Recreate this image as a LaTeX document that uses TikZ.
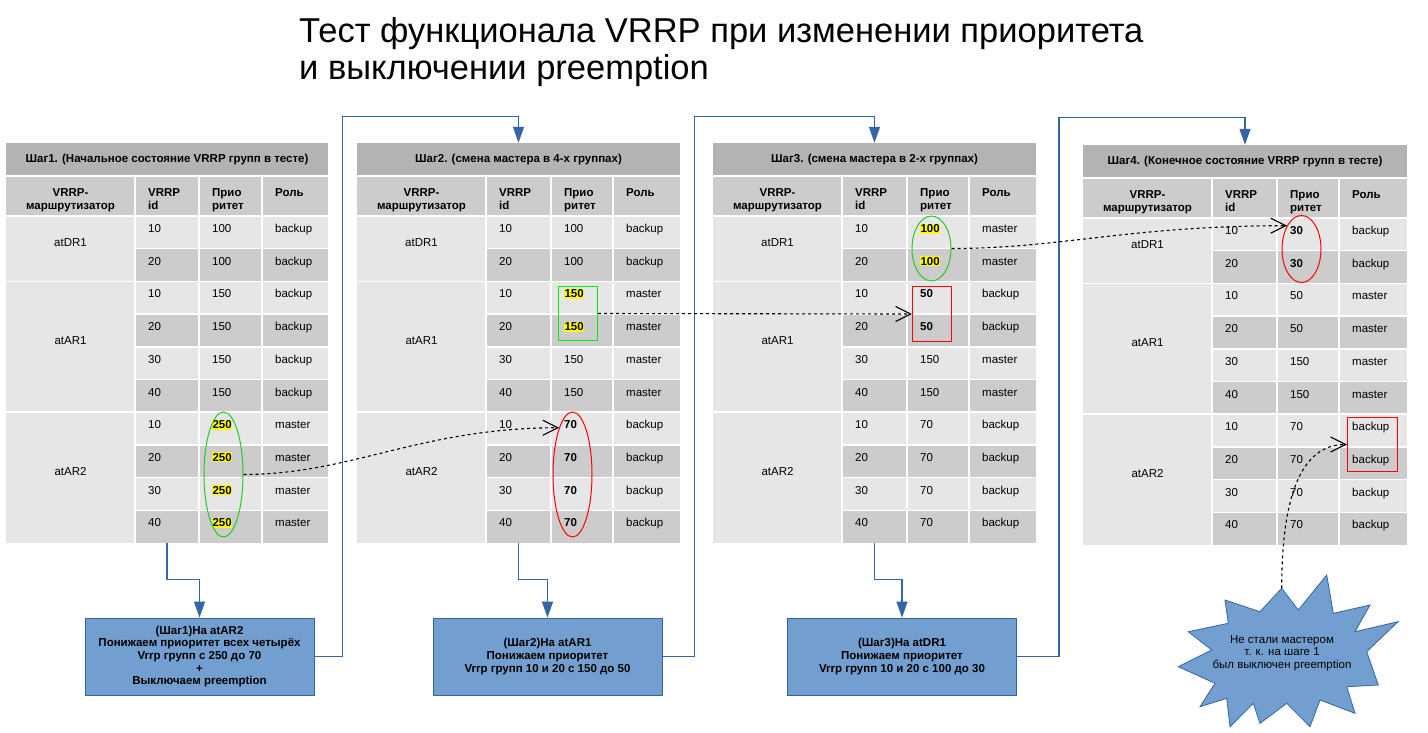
\documentclass[tikz,border=0pt]{standalone}
\usepackage{fontspec}
\setmainfont{Liberation Sans}
\usetikzlibrary{arrows.meta,shapes.geometric}
\definecolor{ctitle}{HTML}{B3B3B3}
\definecolor{chead}{HTML}{CCCCCC}
\definecolor{clight}{HTML}{E6E6E6}
\definecolor{cdark}{HTML}{CCCCCC}
\definecolor{boxfill}{HTML}{729FCF}
\definecolor{boxline}{HTML}{3465A4}
\definecolor{hlgreen}{HTML}{22CC22}
\definecolor{hlgreenb}{HTML}{00EE00}
\definecolor{hlred}{HTML}{FF0000}
\definecolor{hlyellow}{HTML}{FFFF00}
\newcommand\cellfont{\fontsize{11.5}{13}\selectfont}
\tikzset{
  cell/.style={anchor=base west, inner sep=0pt, font=\cellfont},
  hcell/.style={anchor=base west, inner sep=0pt, font=\cellfont\bfseries},
  pv-n/.style={},
  pv-b/.style={font=\cellfont\bfseries},
  pv-y/.style={font=\cellfont\bfseries, fill=hlyellow, inner xsep=0.3pt, inner ysep=0.9pt},
  stepbox/.style={draw=boxline, fill=boxfill, line width=0.8pt, minimum width=229pt, minimum height=77pt, align=center, inner sep=2pt, font=\fontsize{11.5}{12.6}\selectfont\bfseries},
  conn/.style={draw=boxline, line width=1.2pt, -{Triangle[length=16pt,width=11pt]}},
  dasharrow/.style={draw=black, line width=1.1pt, dash pattern=on 3pt off 3pt, -{Straight Barb[length=15pt,width=15pt,line width=1.1pt]}},
  ringg/.style={draw=hlgreen, line width=1pt, ellipse, inner sep=0pt},
  ringr/.style={draw=hlred, line width=1pt, ellipse, inner sep=0pt},
  frameg/.style={draw=hlgreenb, line width=1.4pt, rectangle, inner sep=0pt},
  framer/.style={draw=hlred, line width=1.4pt, rectangle, inner sep=0pt},
}
\newcommand\drawvtable[3]{%
  \pgfmathsetmacro\tmid{(\xa+\xe)/2}%
  \pgfmathsetmacro\rmid{(\xa+\xb)/2}%
  \fill[ctitle] (\xa,\ty) rectangle (\xe,\ty+33);
  \fill[chead] (\xa,\ty+33) rectangle (\xe,\ty+73);
  \fill[clight] (\xa,\ty+73) rectangle (\xb,\ty+400);
  \foreach \i/\id/\pr/\ro/\st in {#3} {
    \ifodd\i \def\rc{cdark}\else\def\rc{clight}\fi
    \fill[\rc] (\xb,{\ty+73+32.7*\i}) rectangle (\xe,{\ty+73+32.7*(\i+1)});
  }
  \begin{scope}[white, line width=1.5pt]
    \draw (\xa,\ty+33) -- (\xe,\ty+33);
    \draw (\xa,\ty+73) -- (\xe,\ty+73);
    \foreach \k in {1,3,4,5,7,8,9} \draw (\xb,{\ty+73+32.7*\k}) -- (\xe,{\ty+73+32.7*\k});
    \foreach \k in {2,6} \draw (\xa,{\ty+73+32.7*\k}) -- (\xe,{\ty+73+32.7*\k});
    \foreach \xx in {\xb,\xc,\xd} \draw (\xx,\ty+33) -- (\xx,\ty+400);
  \end{scope}
  \node[hcell,anchor=base] (#1-title) at (\tmid,\ty+19.7) {#2};
  \node[hcell,anchor=base] (#1-h1a) at (\rmid,\ty+53.5) {VRRP-};
  \node[hcell,anchor=base] (#1-h1b) at (\rmid,\ty+66.5) {маршрутизатор};
  \node[hcell] (#1-h2a) at (\xb+13,\ty+53.5) {VRRP};
  \node[hcell] (#1-h2b) at (\xb+13,\ty+66.5) {id};
  \node[hcell] (#1-h3a) at (\xc+13,\ty+53.5) {Прио};
  \node[hcell] (#1-h3b) at (\xc+13,\ty+66.5) {ритет};
  \node[hcell] (#1-h4a) at (\xd+13,\ty+53.5) {Роль};
  \node[cell,anchor=base] (#1-g1) at (\rmid,{\ty+73+32.7*1-2}) {atDR1};
  \node[cell,anchor=base] (#1-g2) at (\rmid,{\ty+73+32.7*4-2}) {atAR1};
  \node[cell,anchor=base] (#1-g3) at (\rmid,{\ty+73+32.7*8-2}) {atAR2};
  \foreach \i/\id/\pr/\ro/\st in {#3} {
    \node[cell] (#1-\i-id) at (\xb+13,{\ty+89.5+32.7*\i}) {\id};
    \node[cell,pv-\st] (#1-\i-pr) at (\xc+13,{\ty+89.5+32.7*\i}) {\pr};
    \node[cell] (#1-\i-ro) at (\xd+13,{\ty+89.5+32.7*\i}) {\ro};
  }
  \node[inner sep=0pt, minimum width={\xe-\xa}, minimum height=400] (#1) at (\tmid,\ty+200) {};
}
\begin{document}
\begin{tikzpicture}[x=1pt,y=-1pt]
\useasboundingbox[fill=white] (0,0) rectangle (1428,732);
% title
\node[anchor=base west, inner sep=0pt, font=\fontsize{34.5}{40}\selectfont] (head1) at (299,42) {Тест функционала VRRP при изменении приоритета};
\node[anchor=base west, inner sep=0pt, font=\fontsize{34.5}{40}\selectfont] (head2) at (299,79) {и выключении preemption};
% tables
\def\xa{6}\def\xb{135}\def\xc{199}\def\xd{262}\def\xe{328}\def\ty{143}
\drawvtable{T1}{Шаг1. (Начальное состояние VRRP групп в тесте)}{0/10/100/backup/n,1/20/100/backup/n,2/10/150/backup/n,3/20/150/backup/n,4/30/150/backup/n,5/40/150/backup/n,6/10/250/master/y,7/20/250/master/y,8/30/250/master/y,9/40/250/master/y}
\def\xa{357}\def\xb{486}\def\xc{551}\def\xd{613}\def\xe{680}\def\ty{143}
\drawvtable{T2}{Шаг2. (смена мастера в 4-х группах)}{0/10/100/backup/n,1/20/100/backup/n,2/10/150/master/y,3/20/150/master/y,4/30/150/master/n,5/40/150/master/n,6/10/70/backup/b,7/20/70/backup/b,8/30/70/backup/b,9/40/70/backup/b}
\def\xa{713}\def\xb{842}\def\xc{907}\def\xd{969}\def\xe{1036}\def\ty{143}
\drawvtable{T3}{Шаг3. (смена мастера в 2-х группах)}{0/10/100/master/y,1/20/100/master/y,2/10/50/backup/b,3/20/50/backup/b,4/30/150/master/n,5/40/150/master/n,6/10/70/backup/n,7/20/70/backup/n,8/30/70/backup/n,9/40/70/backup/n}
\def\xa{1083}\def\xb{1212}\def\xc{1277}\def\xd{1339}\def\xe{1407}\def\ty{145}
\drawvtable{T4}{Шаг4. (Конечное состояние VRRP групп в тесте)}{0/10/30/backup/b,1/20/30/backup/b,2/10/50/master/n,3/20/50/master/n,4/30/150/master/n,5/40/150/master/n,6/10/70/backup/n,7/20/70/backup/n,8/30/70/backup/n,9/40/70/backup/n}
% highlights
\node[ringg, minimum width=39pt, minimum height=125pt] (E1) at (223.5,474.5) {};
\node[ringr, minimum width=39pt, minimum height=125pt] (E2) at (572.5,474.5) {};
\node[frameg, minimum width=39pt, minimum height=54pt] (G2) at (578,313.5) {};
\node[framer, minimum width=39pt, minimum height=55pt] (R3) at (932,314) {};
\node[ringg, minimum width=39pt, minimum height=65pt] (G3) at (931.5,248.5) {};
\node[ringr, minimum width=39pt, minimum height=67pt] (R4) at (1301.5,249) {};
\node[framer, minimum width=50pt, minimum height=54pt] (F4) at (1372.5,444.5) {};
% step boxes
\node[stepbox] (B1) at (199.5,656.5) {(Шаг1)На atAR2\\Понижаем приоритет всех четырёх\\Vrrp групп с 250 до 70\\+\\Выключаем preemption};
\node[stepbox] (B2) at (547.5,656.5) {(Шаг2)На atAR1\\Понижаем приоритет\\Vrrp групп 10 и 20 с 150 до 50};
\node[stepbox] (B3) at (902,656.5) {(Шаг3)На atDR1\\Понижаем приоритет\\Vrrp групп 10 и 20 с 100 до 30};
% explosion
\draw[fill=boxfill, draw=boxline, line width=0.8pt] plot coordinates {(1281.7,588.3) (1298.3,610) (1326.7,575) (1333.3,613.3) (1370,605) (1355,631.7) (1398,621.7) (1366.7,651.7) (1378.3,685) (1346.7,686.7) (1355,713.3) (1320,700) (1310,726.7) (1286.7,703.3) (1260,723.3) (1253.3,703.3) (1230,726.7) (1226.7,698.3) (1200,706.7) (1215,683.3) (1178.3,666.7) (1211.7,650) (1188.3,631.7) (1228.3,623.3) (1225,600) (1260,611.7)} -- cycle;
\coordinate (startop) at (1281.7,588.3);
\node[align=center, inner sep=0pt, font=\fontsize{11.5}{12.7}\selectfont] (ST) at (1282,653) {Не стали мастером\\т. к. на шаге 1\\был выключен preemption};
% blue connectors
\draw[conn] (T1.south) -- ++(0,36) -| (B1.north);
\draw[conn] (B1.east) -- ++(28,0) |- ([yshift=26pt]T2.north) -- (T2.north);
\draw[conn] (T2.south) -- ++(0,36) -| (B2.north);
\draw[conn] (B2.east) -- ++(32,0) |- ([yshift=26pt]T3.north) -- (T3.north);
\draw[conn] (T3.south) -- ++(0,36) -| (B3.north);
\draw[conn] (B3.east) -- ++(42,0) |- ([yshift=27pt]T4.north) -- (T4.north);
% dashed arrows
\draw[dasharrow] (E1.east) .. controls +(107,0) and +(-138,0) .. (E2.106);
\draw[dasharrow] (G2.east) -- (R3.west);
\draw[dasharrow] (G3.east) .. controls +(109,0) and +(-157,0) .. (R4.122);
\draw[dasharrow] (startop) .. controls +(0,-89) and +(-47,0) .. (F4.west);
\end{tikzpicture}
\end{document}
